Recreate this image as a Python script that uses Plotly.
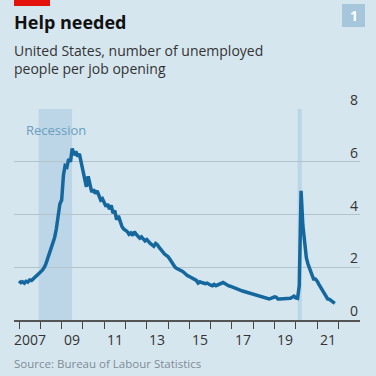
import pandas as pd
import plotly.graph_objects as go

# Monthly ratio, Jan 2007 - Nov 2021
ratio = [
    1.48, 1.42, 1.45, 1.40, 1.47, 1.44, 1.52, 1.50, 1.56, 1.62, 1.68, 1.75,  # 2007
    1.80, 1.88, 1.97, 2.10, 2.30, 2.52, 2.70, 2.92, 3.12, 3.45, 3.85, 4.40,  # 2008
    4.55, 5.50, 5.85, 5.80, 6.10, 6.00, 6.50, 6.25, 6.40, 6.20, 6.30, 5.95,  # 2009
    5.60, 5.35, 5.05, 5.45, 5.15, 4.85, 4.95, 4.80, 4.90, 4.70, 4.55, 4.60,  # 2010
    4.45, 4.30, 4.40, 4.20, 4.35, 4.05, 4.15, 3.80, 3.95, 3.70, 3.55, 3.45,  # 2011
    3.40, 3.35, 3.25, 3.30, 3.20, 3.35, 3.25, 3.15, 3.10, 3.15, 3.05, 3.00,  # 2012
    3.05, 2.95, 2.90, 2.85, 2.80, 2.90, 2.85, 2.75, 2.65, 2.60, 2.50, 2.45,  # 2013
    2.40, 2.30, 2.20, 2.05, 2.00, 1.95, 1.92, 1.90, 1.85, 1.80, 1.72, 1.68,  # 2014
    1.65, 1.62, 1.58, 1.55, 1.50, 1.40, 1.45, 1.42, 1.40, 1.38, 1.40, 1.35,  # 2015
    1.32, 1.30, 1.35, 1.30, 1.33, 1.36, 1.40, 1.42, 1.38, 1.32, 1.30, 1.28,  # 2016
    1.25, 1.22, 1.20, 1.15, 1.15, 1.12, 1.10, 1.08, 1.05, 1.05, 1.04, 1.00,  # 2017
    1.00, 0.97, 0.95, 0.92, 0.90, 0.90, 0.88, 0.85, 0.82, 0.80, 0.82, 0.85,  # 2018
    0.88, 0.86, 0.80, 0.80, 0.80, 0.79, 0.80, 0.80, 0.80, 0.82, 0.86, 0.90,  # 2019
    0.84, 0.82, 1.30, 4.90, 3.60, 2.80, 2.35, 2.10, 1.90, 1.70, 1.55, 1.55,  # 2020
    1.48, 1.35, 1.25, 1.10, 1.00, 0.92, 0.80, 0.78, 0.72, 0.68, 0.63,        # 2021
]
dates = pd.date_range("2007-01-01", periods=len(ratio), freq="MS")

year_ticks = [f"{y}-01-01" for y in range(2007, 2023)]
label_years = [2007, 2009, 2011, 2013, 2015, 2017, 2019, 2021]
label_text = ["2007", "09", "11", "13", "15", "17", "19", "21"]
y_ticks = [0, 2, 4, 6, 8]
recessions = [("2007-12-01", "2009-06-30"), ("2020-02-01", "2020-04-15")]

BG = "#d6e6ef"
FONT = "Open Sans"
W, H = 376, 376
ML, MR, MT, MB = 14, 16, 109, 56
ph = H - MT - MB
pw = W - ML - MR


def py(pix_from_top):
    return (H - MB - pix_from_top) / ph


def px(pix_from_left):
    return (pix_from_left - ML) / pw


fig = go.Figure()
fig.add_trace(go.Scatter(x=dates, y=ratio, mode="lines",
                         line=dict(color="#15689e", width=3.5), hoverinfo="skip"))

for x0, x1 in recessions:
    fig.add_shape(type="rect", xref="x", yref="y", x0=x0, x1=x1, y0=0, y1=8,
                  fillcolor="#bcd6e7", line=dict(width=0), layer="below")
fig.add_shape(type="rect", xref="paper", yref="paper", x0=px(14), x1=px(50), y0=py(0), y1=py(6),
              fillcolor="#e3120b", line=dict(width=0))
fig.add_shape(type="rect", xref="paper", yref="paper", x0=px(342), x1=px(365), y0=py(4), y1=py(27),
              fillcolor="#a5c6db", line=dict(width=0))

for v in y_ticks:
    fig.add_annotation(x=1, xref="paper", y=v, yref="y", text=str(v), showarrow=False,
                       xanchor="right", yanchor="bottom", yshift=-2,
                       font=dict(family=FONT, size=14, color="#333333"))
for y, t in zip(label_years, label_text):
    fig.add_annotation(x=f"{y}-07-01", xref="x", y=0, yref="paper", text=t, showarrow=False,
                       xanchor="center", yanchor="top", yshift=-8,
                       font=dict(family=FONT, size=14, color="#333333"))
fig.add_annotation(x="2007-04-01", xref="x", y=7.2, yref="y", text="Recession", showarrow=False,
                   xanchor="left", yanchor="middle",
                   font=dict(family=FONT, size=13, color="#6b9dbf"))

fig.add_annotation(x=px(353.5), y=py(15.5), xref="paper", yref="paper", text="<b>1</b>",
                   showarrow=False, xanchor="center", yanchor="middle",
                   font=dict(family=FONT, size=14, color="white"))
fig.add_annotation(x=px(12), y=py(22), xref="paper", yref="paper", text="<b>Help needed</b>",
                   showarrow=False, xanchor="left", yanchor="middle",
                   font=dict(family=FONT, size=18, color="#111111"))
fig.add_annotation(x=px(12), y=py(59), xref="paper", yref="paper",
                   text="United States, number of unemployed<br>people per job opening",
                   showarrow=False, xanchor="left", yanchor="middle", align="left",
                   font=dict(family=FONT, size=14, color="#333333"))
fig.add_annotation(x=px(12), y=py(363), xref="paper", yref="paper",
                   text="Source: Bureau of Labour Statistics",
                   showarrow=False, xanchor="left", yanchor="middle",
                   font=dict(family=FONT, size=11.5, color="#7d8c95"))

fig.update_layout(
    width=W, height=H,
    margin=dict(l=ML, r=MR, t=MT, b=MB, autoexpand=False),
    paper_bgcolor=BG, plot_bgcolor=BG,
    showlegend=False,
    xaxis=dict(type="date", range=["2006-10-06", "2023-01-07"],
               tickvals=year_ticks, showticklabels=False,
               ticks="outside", ticklen=7, tickwidth=1.2, tickcolor="#444444",
               showgrid=False, showline=True, linecolor="#555555", linewidth=1.5,
               zeroline=False, fixedrange=True),
    yaxis=dict(range=[0, 8], tickvals=y_ticks, showticklabels=False,
               showgrid=True, gridcolor="#b3c3cc", gridwidth=1.2,
               zeroline=False, showline=False, fixedrange=True),
)

fig.write_html("out.html", config={"displayModeBar": False},
               post_script="document.body.style.margin='0';document.body.style.background='%s';" % BG)
